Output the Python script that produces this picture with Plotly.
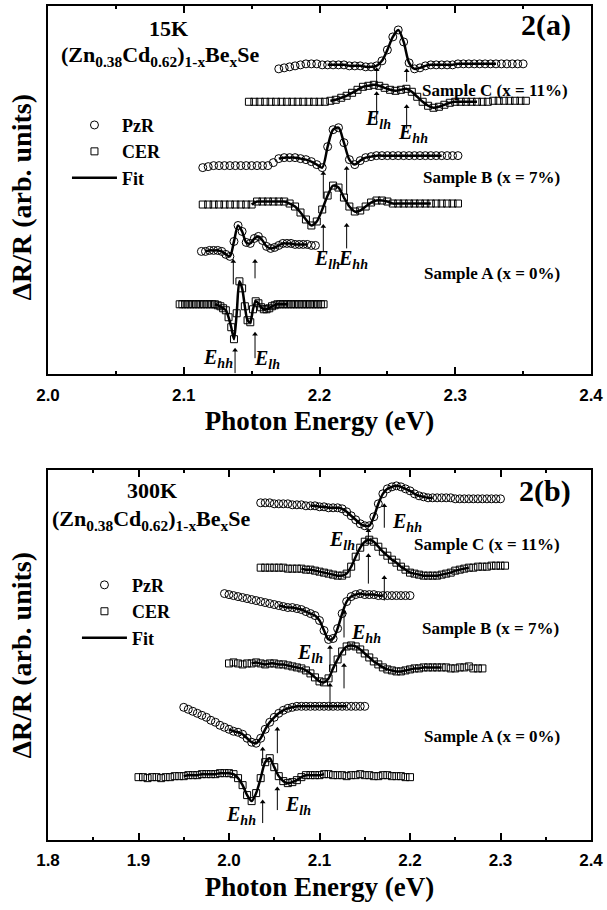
import numpy as np
import plotly.graph_objects as go

# ---------------- Panel 2(a): 15 K ----------------
# each spectrum: first energy (eV), energy step (eV), signal (arb. units, offset included)
a_C_pzr_E0, a_C_pzr_dE = 2.170, 0.004
a_C_pzr = [306,307,308,309,310,311,311,311,310,310,
           310,310,310,309,309,309,308,308,309,314,
           325,338,345,333,312,306,307,309,310,310,
           310,310,310,311,311,311,311,311,311,311,
           311,311,311,311,311,311]
a_C_cer_E0, a_C_cer_dE = 2.148, 0.004
a_C_cer = [273,273,273,273,273,273,273,273,273,273,
           273,273,273,273,273,274,275,277,279,282,
           285,288,289,290,289,287,285,284,285,286,
           283,278,273,269,267,268,270,272,273,273,
           273,273,273,273,273,274,274,274,274,274,
           274,274]
a_B_pzr_E0, a_B_pzr_dE = 2.114, 0.004
a_B_pzr = [207,208,209,209,209,209,209,209,209,209,
           209,209,209,212,216,217,217,217,216,215,
           213,210,207,228,245,247,232,215,210,214,
           217,218,219,219,219,219,219,219,219,219,
           219,219,219,219,219,219,219,219]
a_B_cer_E0, a_B_cer_dE = 2.114, 0.004
a_B_cer = [170,170,170,170,170,170,170,170,170,170,
           173,173,173,173,173,173,171,168,162,155,
           149,153,165,179,189,187,177,168,163,164,
           168,172,174,174,173,171,171,171,171,171,
           171,171,171,171,171,171,171,171]
a_A_pzr_E0, a_A_pzr_dE = 2.113, 0.003
a_A_pzr = [123,123,124,124,124,123,120,118,133,149,
           143,132,131,136,138,134,128,126,127,129,
           131,131,131,130,130,130,130,129,129]
a_A_cer_E0, a_A_cer_dE = 2.097, 0.002
a_A_cer = [70,70,70,70,70,70,70,70,70,70,
           70,70,70,70,69,68,66,64,57,47,
           35,61,93,86,68,54,52,65,73,71,
           67,65,65,66,68,69,70,70,70,70,
           70,70,70,70,70,70,70,70,70,70,
           70,70,70,70]
# fitted energy windows
a_fit_windows = {"C_pzr": (2.205, 2.330), "C_cer": (2.208, 2.318),
                 "B_pzr": (2.168, 2.290), "B_cer": (2.150, 2.282),
                 "A_pzr": (2.115, 2.193), "A_cer": (2.123, 2.178)}
# transition arrows: (energy, tail, head)
a_arrows = [(2.2421, 290, 305), (2.2421, 251, 281), (2.2642, 293, 304), (2.2642, 246, 268),
            (2.2028, 176, 201), (2.2200, 180, 206), (2.2028, 123, 148), (2.2200, 126, 149),
            (2.1365, 90, 113), (2.1525, 96, 113), (2.1378, 1, 24), (2.1525, 16, 40)]
# transition labels: (energy, level, kind)
a_labels = [(2.2431, 255, "lh"), (2.2690, 241, "hh"),
            (2.2055, 115, "lh"), (2.2247, 115, "hh"),
            (2.1252, 16, "hh"), (2.1613, 15, "lh")]

# ---------------- Panel 2(b): 300 K ----------------
b_C_pzr_E0, b_C_pzr_dE = 2.035, 0.005
b_C_pzr = [338,338,338,337,337,337,337,336,336,336,
           335,335,335,334,334,333,333,333,332,329,
           325,321,317,315,315,324,337,347,352,354,
           355,354,352,350,347,345,344,343,343,343,
           343,343,343,342,342,342,342,342,342,342,
           342,342,342,342]
b_C_cer_E0, b_C_cer_dE = 2.035, 0.005
b_C_cer = [273,273,273,273,273,273,272,272,272,272,
           271,271,270,269,268,267,266,265,265,267,
           274,284,293,299,301,299,294,289,285,281,
           278,274,271,268,267,266,265,265,265,265,
           266,267,268,270,271,272,273,273,274,274,
           274,275,275,275,275]
b_B_pzr_E0, b_B_pzr_dE = 1.995, 0.005
b_B_pzr = [247,246,245,244,243,242,241,240,239,238,
           237,236,235,234,233,233,232,231,229,227,
           225,220,210,201,202,212,227,239,244,246,
           247,246,246,246,245,245,245,245,245,245,
           245,245]
b_B_cer_E0, b_B_cer_dE = 2.000, 0.005
b_B_cer = [177,178,177,176,177,177,178,177,176,177,
           177,176,176,175,174,173,172,170,167,163,
           159,158,162,172,181,189,194,195,194,191,
           187,183,179,176,173,171,170,169,169,170,
           171,172,172,173,173,173,173,173,173,172,
           172,173,173,174,172,172,172]
b_A_pzr_E0, b_A_pzr_dE = 1.950, 0.005
b_A_pzr = [133,131,129,127,125,123,120,118,115,113,
           111,109,108,106,102,98,97,102,111,118,
           123,127,130,132,133,134,134,134,134,134,
           134,134,134,134,134,134,134,134,134,134,
           134]
b_A_cer_E0, b_A_cer_dE = 1.900, 0.005
b_A_cer = [63,63,62,63,63,62,63,63,64,64,
           64,65,65,65,66,66,66,66,67,67,
           67,66,62,55,45,39,47,62,78,82,
           73,64,59,57,58,60,63,65,65,65,
           65,66,66,65,65,65,64,65,65,66,
           65,65,64,64,65,65,64,64,64,63,
           63]
b_fit_windows = {"C_pzr": (2.090, 2.225), "C_cer": (2.080, 2.266),
                 "B_pzr": (2.055, 2.170), "B_cer": (2.024, 2.236),
                 "A_pzr": (1.998, 2.130), "A_cer": (1.949, 2.108)}
b_arrows = [(2.1540, 297, 310), (2.1540, 257, 285), (2.1716, 313, 335), (2.1716, 240, 263),
            (2.1116, 170, 193), (2.1116, 130, 155), (2.1271, 203, 228), (2.1271, 152, 175),
            (2.0372, 77, 91), (2.0534, 87, 111), (2.0372, 17, 38), (2.0534, 30, 51)]
b_labels = [(2.1249, 300, "lh"), (2.1967, 318, "hh"),
            (2.0895, 187, "lh"), (2.1514, 207, "hh"),
            (2.0133, 25, "hh"), (2.0762, 35, "lh")]

sample_names = ["Sample C (x = 11%)", "Sample B (x = 7%)", "Sample A (x = 0%)"]
formula = "(Zn<sub>0.38</sub>Cd<sub>0.62</sub>)<sub>1-x</sub>Be<sub>x</sub>Se"

panels = [
    dict(xa="x", ya="y", legend="legend",
         spectra=[("C_pzr", a_C_pzr_E0, a_C_pzr_dE, a_C_pzr),
                  ("C_cer", a_C_cer_E0, a_C_cer_dE, a_C_cer),
                  ("B_pzr", a_B_pzr_E0, a_B_pzr_dE, a_B_pzr),
                  ("B_cer", a_B_cer_E0, a_B_cer_dE, a_B_cer),
                  ("A_pzr", a_A_pzr_E0, a_A_pzr_dE, a_A_pzr),
                  ("A_cer", a_A_cer_E0, a_A_cer_dE, a_A_cer)],
         fits=a_fit_windows, arrows=a_arrows, labels=a_labels),
    dict(xa="x2", ya="y2", legend="legend2",
         spectra=[("C_pzr", b_C_pzr_E0, b_C_pzr_dE, b_C_pzr),
                  ("C_cer", b_C_cer_E0, b_C_cer_dE, b_C_cer),
                  ("B_pzr", b_B_pzr_E0, b_B_pzr_dE, b_B_pzr),
                  ("B_cer", b_B_cer_E0, b_B_cer_dE, b_B_cer),
                  ("A_pzr", b_A_pzr_E0, b_A_pzr_dE, b_A_pzr),
                  ("A_cer", b_A_cer_E0, b_A_cer_dE, b_A_cer)],
         fits=b_fit_windows, arrows=b_arrows, labels=b_labels),
]

SERIF = "Liberation Serif, Times New Roman, serif"
SANS = "Liberation Sans, Arial, sans-serif"

fig = go.Figure()
for p in panels:
    shown = set()
    series = []
    for key, e0, de, vals in p["spectra"]:
        e = np.round(e0 + de * np.arange(len(vals)), 4)
        v = np.array(vals, dtype=float)
        series.append((key, e, v))
        kind = "PzR" if key.endswith("pzr") else "CER"
        fig.add_trace(go.Scatter(
            x=e, y=v, mode="markers", name=kind,
            marker=dict(symbol="circle-open" if kind == "PzR" else "square-open",
                        size=8 if kind == "PzR" else 7, color="black",
                        line=dict(width=1, color="black")),
            xaxis=p["xa"], yaxis=p["ya"], legend=p["legend"],
            showlegend=kind not in shown, hoverinfo="x+y"))
        shown.add(kind)
    first = True
    for key, e, v in series:
        lo, hi = p["fits"][key]
        m = (e >= lo) & (e <= hi)
        fig.add_trace(go.Scatter(
            x=e[m], y=v[m], mode="lines", name="Fit",
            line=dict(color="black", width=2.5, shape="spline", smoothing=0.8),
            xaxis=p["xa"], yaxis=p["ya"], legend=p["legend"],
            showlegend=first, hoverinfo="skip"))
        first = False
    # transition arrows: shaft + head
    sx, sy = [], []
    for e, tail, head in p["arrows"]:
        sx += [e, e, None]
        sy += [tail, head, None]
    fig.add_trace(go.Scatter(x=sx, y=sy, mode="lines", line=dict(color="black", width=1),
                             xaxis=p["xa"], yaxis=p["ya"], showlegend=False, hoverinfo="skip"))
    fig.add_trace(go.Scatter(x=[a[0] for a in p["arrows"]], y=[a[2] for a in p["arrows"]],
                             mode="markers", marker=dict(symbol="triangle-up", size=5, color="black"),
                             xaxis=p["xa"], yaxis=p["ya"], showlegend=False, hoverinfo="skip"))

# geometry of the two frames (pixels)
FX0, FX1 = 48, 592
TOP = (4, 373)
BOT = (469, 840)
H = BOT[1] - TOP[0]


def dom(px, py, frame, n):
    y0, y1 = frame
    sfx = "" if n == 1 else str(n)
    return dict(xref="x%s domain" % sfx, yref="y%s domain" % sfx,
                x=(px - FX0) / (FX1 - FX0), y=(y1 - py) / (y1 - y0))


ann = []
for n, p, frame, items in [
    (1, panels[0], TOP, [("15K", 169, 27, 22), (formula, 161, 54, 22), ("2(a)", 547, 23, 30),
                         (sample_names[0], 496, 89, 17), (sample_names[1], 492, 176, 17),
                         (sample_names[2], 493, 272, 17)]),
    (2, panels[1], BOT, [("300K", 152, 490, 22), (formula, 152, 519, 22), ("2(b)", 546, 490, 30),
                         (sample_names[0], 488, 544, 17), (sample_names[1], 491, 628, 17),
                         (sample_names[2], 493, 736, 17)])]:
    for text, px, py, size in items:
        d = dom(px, py, frame, n)
        d.update(text="<b>%s</b>" % text, showarrow=False, xanchor="center", yanchor="middle",
                 font=dict(family=SERIF, size=size, color="black"))
        ann.append(d)
    for e, lvl, kind in p["labels"]:
        ann.append(dict(x=e, y=lvl, xref=p["xa"], yref=p["ya"], showarrow=False,
                        text="<b><i>E</i></b><sub><b><i>%s</i></b></sub>" % kind,
                        font=dict(family=SERIF, size=20, color="black")))

# y-axis titles
for yc in (196, 655):
    ann.append(dict(xref="paper", yref="paper", x=(21 - FX0) / (FX1 - FX0),
                    y=(BOT[1] - yc) / H, showarrow=False,
                    text="<b>\u0394R/R (arb. units)</b>", textangle=-90,
                    xanchor="center", yanchor="middle",
                    font=dict(family=SERIF, size=28, color="black")))

xcommon = dict(showline=True, linewidth=2, linecolor="black", mirror="allticks",
               ticks="inside", ticklen=7, tickwidth=2, tickcolor="black",
               showgrid=False, zeroline=False, dtick=0.1, tickformat=".1f",
               tickfont=dict(family=SANS, size=17, color="black", weight="bold"),
               ticklabelstandoff=4,
               minor=dict(dtick=0.05, ticks="inside", ticklen=3, tickwidth=2,
                          tickcolor="black", showgrid=False),
               title=dict(text="<b>Photon Energy (eV)</b>", standoff=8,
                          font=dict(family=SERIF, size=27, color="black")))
ycommon = dict(showline=True, linewidth=2, linecolor="black", mirror=True,
               ticks="", showticklabels=False, showgrid=False, zeroline=False)

legcommon = dict(xref="paper", yref="paper", xanchor="left", yanchor="top",
                 bgcolor="rgba(0,0,0,0)",
                 font=dict(family=SERIF, size=18, color="black", weight="bold"),
                 itemwidth=45, tracegroupgap=0)

fig.update_layout(
    width=607, height=910,
    margin=dict(l=FX0, r=607 - FX1, t=TOP[0], b=910 - BOT[1]),
    paper_bgcolor="white", plot_bgcolor="white",
    xaxis=dict(xcommon, domain=[0, 1], anchor="y", range=[2.0, 2.4], tick0=2.0),
    yaxis=dict(ycommon, domain=[(BOT[1] - TOP[1]) / H, 1], anchor="x", range=[0, TOP[1] - TOP[0]]),
    xaxis2=dict(xcommon, domain=[0, 1], anchor="y2", range=[1.8, 2.4], tick0=1.8),
    yaxis2=dict(ycommon, domain=[0, (BOT[1] - BOT[0]) / H], anchor="x2", range=[0, BOT[1] - BOT[0]]),
    legend=dict(legcommon, x=(67 - FX0) / (FX1 - FX0), y=(BOT[1] - 105) / H),
    legend2=dict(legcommon, x=(77 - FX0) / (FX1 - FX0), y=(BOT[1] - 566) / H),
    annotations=ann,
    showlegend=True,
)

fig.write_html("out.html", config={"displayModeBar": False},
               post_script="document.body.style.margin='0px';")
